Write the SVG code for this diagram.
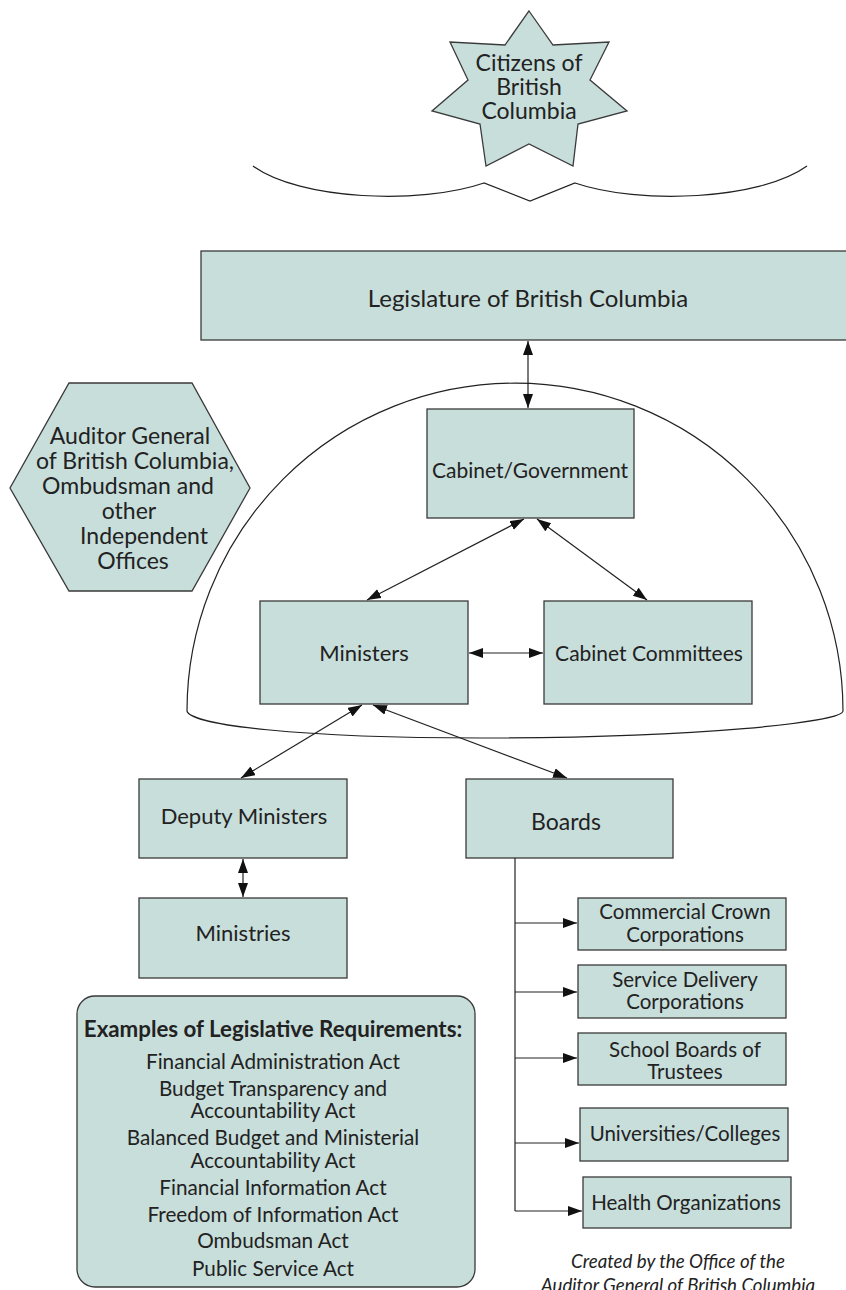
<svg xmlns="http://www.w3.org/2000/svg" width="846" height="1290" viewBox="0 0 846 1290">
<style>
.n{fill:#c8dedb;stroke:#3a3a3a;stroke-width:1.3}
.t{font-family:Lato,"Liberation Sans",sans-serif;font-size:22px;fill:#222;text-anchor:middle}
.h{font-size:23px}
.s{font-size:20.5px}
.e{font-size:20.7px}
.b{font-weight:bold;font-size:22.3px}
.i{font-style:italic;font-size:18.7px}
.c{fill:none;stroke:#222;stroke-width:1.2}
.o{fill:none;stroke:#222;stroke-width:1.2}
</style>
<defs>
<marker id="ah" markerUnits="userSpaceOnUse" markerWidth="16" markerHeight="12" refX="14" refY="5" orient="auto-start-reverse">
<path d="M0,0 L14,5 L0,10 Z" fill="#111"/>
</marker>
</defs>
<g id="citizens">
<polygon class="n" points="529,11 553,45 609,42 590,80 627,111 578,124 573,166 529,144 486,166 480,124 432,111 468,80 450,42 505,45"/>
<text class="t h" x="529" y="71">Citizens of</text>
<text class="t h" x="529" y="95">British</text>
<text class="t h" x="529" y="119">Columbia</text>
</g>
<g id="brace">
<path class="o" d="M253,166 C300,200 420,205 484,183 L530,201 L575,183 C639,205 760,200 807,166"/>
</g>
<g id="legislature">
<rect class="n" x="201" y="251" width="650" height="89"/>
<text class="t" x="528" y="307" style="font-size:24px">Legislature of British Columbia</text>
</g>
<g id="dome">
<path class="o" d="M187,711 A328,328 0 0 1 843,711 C842,722 700,738 480,738 C300,738 190,725 187,711 Z"/>
</g>
<g id="independent-offices">
<polygon class="n" points="69,383 192,383 250,488 192,591 69,591 10,488"/>
<text class="t h" x="130" y="444">Auditor General</text>
<text class="t h" x="135" y="469">of British Columbia,</text>
<text class="t h" x="128" y="494">Ombudsman and</text>
<text class="t h" x="129" y="519">other</text>
<text class="t h" x="144" y="544">Independent</text>
<text class="t h" x="133" y="569">Offices</text>
</g>
<g id="cabinet">
<rect class="n" x="427" y="409" width="207" height="109"/>
<text class="t" x="530" y="478" style="font-size:21px">Cabinet/Government</text>
</g>
<g id="ministers">
<rect class="n" x="260" y="601" width="208" height="103"/>
<text class="t" x="364" y="661">Ministers</text>
</g>
<g id="cabinet-committees">
<rect class="n" x="544" y="601" width="208" height="103"/>
<text class="t" x="649" y="661" style="font-size:21px">Cabinet Committees</text>
</g>
<g id="deputy-ministers">
<rect class="n" x="139" y="779" width="208" height="79"/>
<text class="t" x="244" y="824">Deputy Ministers</text>
</g>
<g id="ministries">
<rect class="n" x="139" y="898" width="208" height="80"/>
<text class="t" x="243" y="941">Ministries</text>
</g>
<g id="boards">
<rect class="n" x="466" y="779" width="207" height="79"/>
<text class="t" x="566" y="830" style="font-size:23px">Boards</text>
</g>
<g id="commercial-crown">
<rect class="n" x="578" y="898" width="208" height="52"/>
<text class="t s" x="685" y="919">Commercial Crown</text>
<text class="t s" x="685" y="942">Corporations</text>
</g>
<g id="service-delivery">
<rect class="n" x="578" y="965" width="208" height="53"/>
<text class="t s" x="685" y="987">Service Delivery</text>
<text class="t s" x="685" y="1009">Corporations</text>
</g>
<g id="school-boards">
<rect class="n" x="578" y="1033" width="208" height="52"/>
<text class="t s" x="685" y="1057">School Boards of</text>
<text class="t s" x="685" y="1079">Trustees</text>
</g>
<g id="universities">
<rect class="n" x="580" y="1108" width="208" height="53"/>
<text class="t s" x="685" y="1141">Universities/Colleges</text>
</g>
<g id="health">
<rect class="n" x="583" y="1177" width="208" height="51"/>
<text class="t s" x="686" y="1210">Health Organizations</text>
</g>
<g id="examples">
<rect class="n" x="77" y="996" width="398" height="291" rx="18"/>
<text class="t b" x="273" y="1037">Examples of Legislative Requirements:</text>
<text class="t e" x="273" y="1069">Financial Administration Act</text>
<text class="t e" x="273" y="1096">Budget Transparency and</text>
<text class="t e" x="273" y="1118">Accountability Act</text>
<text class="t e" x="273" y="1145">Balanced Budget and Ministerial</text>
<text class="t e" x="273" y="1168">Accountability Act</text>
<text class="t e" x="273" y="1195">Financial Information Act</text>
<text class="t e" x="273" y="1222">Freedom of Information Act</text>
<text class="t e" x="273" y="1248">Ombudsman Act</text>
<text class="t e" x="273" y="1276">Public Service Act</text>
</g>
<g id="credit">
<text class="t i" x="678" y="1268">Created by the Office of the</text>
<text class="t i" x="678" y="1292">Auditor General of British Columbia</text>
</g>
<g id="connectors">
<line class="c" x1="528" y1="341" x2="528" y2="408" marker-start="url(#ah)" marker-end="url(#ah)"/>
<line class="c" x1="524" y1="519" x2="367" y2="600" marker-start="url(#ah)" marker-end="url(#ah)"/>
<line class="c" x1="537" y1="519" x2="647" y2="600" marker-start="url(#ah)" marker-end="url(#ah)"/>
<line class="c" x1="469" y1="653" x2="543" y2="653" marker-start="url(#ah)" marker-end="url(#ah)"/>
<line class="c" x1="362" y1="705" x2="241" y2="778" marker-start="url(#ah)" marker-end="url(#ah)"/>
<line class="c" x1="373" y1="705" x2="567" y2="778" marker-start="url(#ah)" marker-end="url(#ah)"/>
<line class="c" x1="243" y1="859" x2="243" y2="897" marker-start="url(#ah)" marker-end="url(#ah)"/>
<line class="c" x1="515" y1="858" x2="515" y2="1211"/>
<line class="c" x1="515" y1="923" x2="577" y2="923" marker-end="url(#ah)"/>
<line class="c" x1="515" y1="992" x2="577" y2="992" marker-end="url(#ah)"/>
<line class="c" x1="515" y1="1058" x2="577" y2="1058" marker-end="url(#ah)"/>
<line class="c" x1="515" y1="1143" x2="579" y2="1143" marker-end="url(#ah)"/>
<line class="c" x1="515" y1="1211" x2="582" y2="1211" marker-end="url(#ah)"/>
</g>
</svg>
